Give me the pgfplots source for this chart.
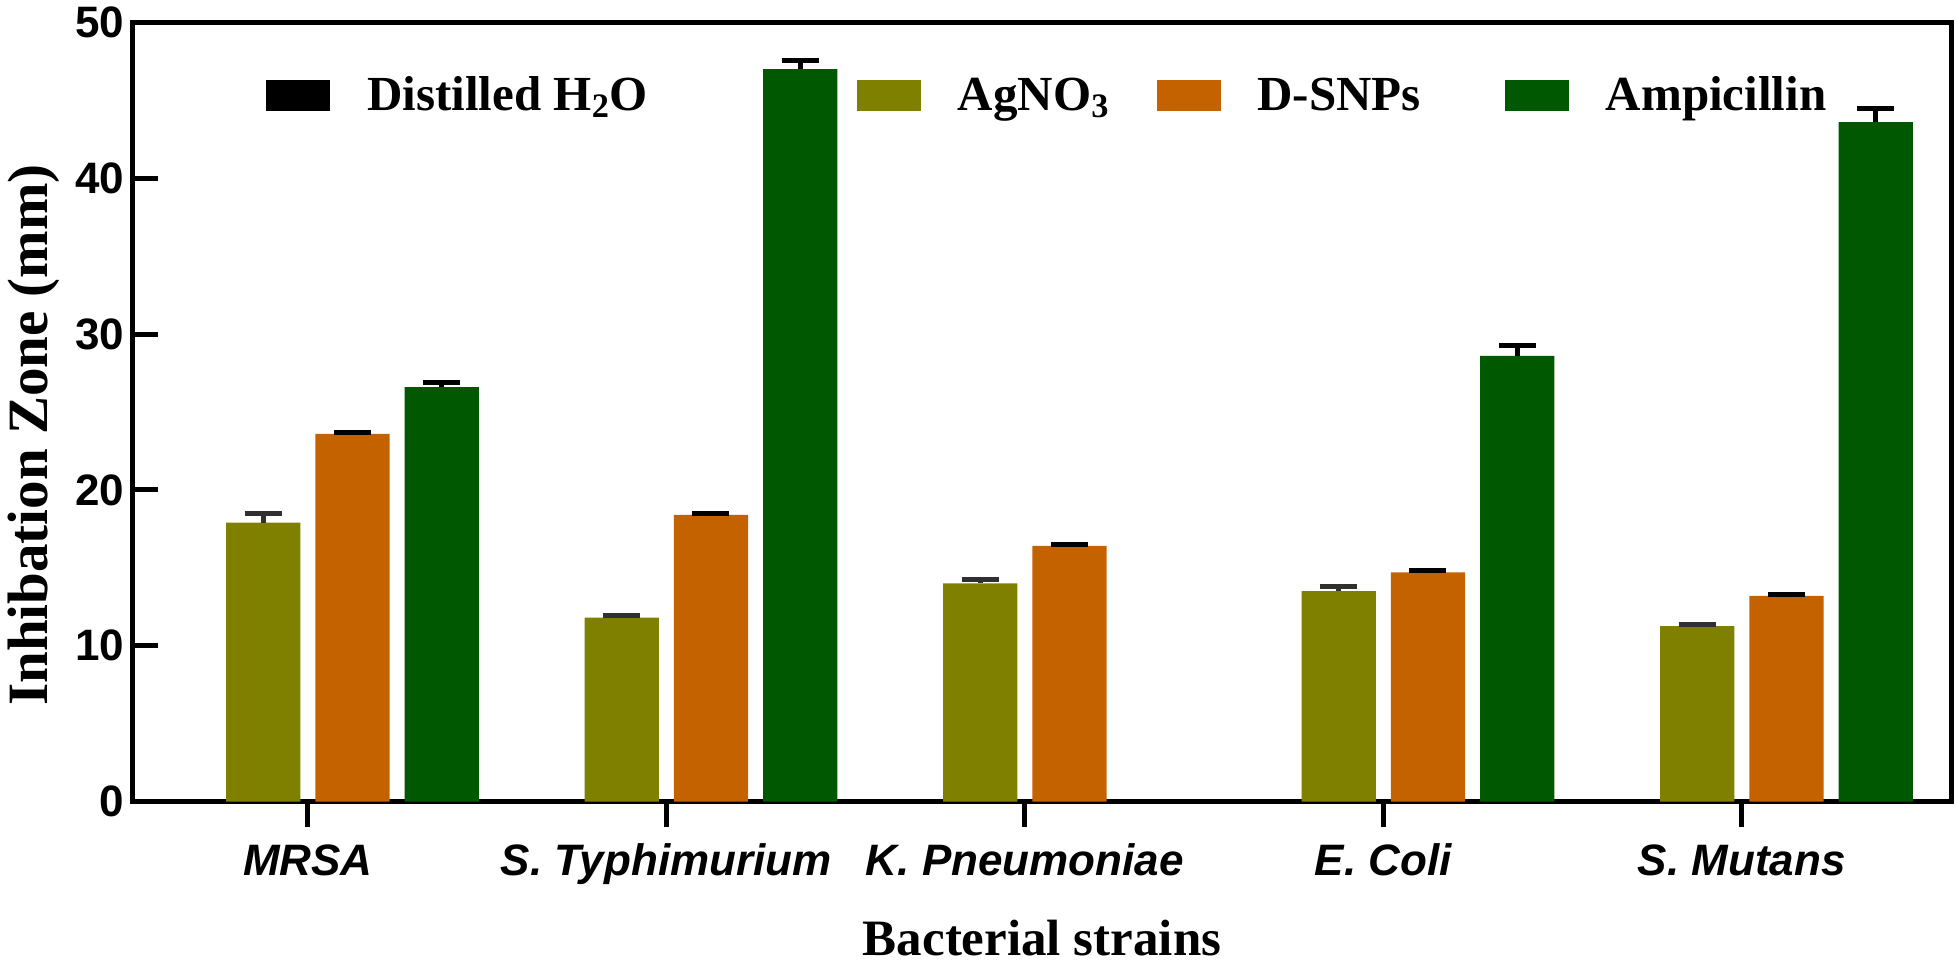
\documentclass[border=0pt]{standalone}
\usepackage{fontspec}
\setmainfont{Liberation Serif}
\setsansfont{Liberation Sans}
\usepackage{pgfplots}
\pgfplotsset{compat=1.18}
\definecolor{cOlive}{RGB}{128,128,0}
\definecolor{cOrange}{RGB}{196,98,0}
\definecolor{cGreen}{RGB}{0,88,0}
\definecolor{cErr}{RGB}{48,48,48}
\begin{document}
\begin{tikzpicture}
\useasboundingbox (0,0) rectangle (978.5pt,482.5pt);
\begin{axis}[
  at={(66.5pt,81.75pt)}, anchor=south west,
  width=909pt, height=389.5pt, scale only axis,
  xmin=-0.4876, xmax=4.5835, ymin=0, ymax=50,
  xtick={0,1,2,3,4},
  xticklabels={MRSA, S. Typhimurium, K. Pneumoniae, E. Coli, S. Mutans},
  ytick={0,10,20,30,40,50},
  tick pos=left,
  xtick align=outside, ytick align=inside,
  major tick length=12.5pt,
  tick style={line width=2.5pt, black},
  axis line style={line width=2.5pt},
  /pgf/number format/assume math mode=true,
  yticklabel style={font=\sffamily\bfseries\fontsize{22}{22}\selectfont, anchor=east, inner sep=0pt, xshift=-4.25pt},
  xticklabel style={font=\sffamily\bfseries\itshape\fontsize{22}{22}\selectfont, anchor=base, inner sep=0pt, yshift=-24.25pt},
  xlabel={Bacterial strains},
  xlabel style={font=\bfseries\fontsize{25.5}{25.5}\selectfont, at={(axis description cs:0.5,-0.19705)}, anchor=base},
  ylabel={Inhibation Zone (mm)},
  ylabel style={font=\bfseries\fontsize{28.5}{28.5}\selectfont, at={(axis description cs:-0.0473,0.4705)}, anchor=base},
  legend columns=4,
  legend style={draw=none, fill=none, inner sep=0pt, outer sep=0pt,
    at={(0.07343,0.96213)}, anchor=north west,
    font=\bfseries\fontsize{24.5}{24.5}\selectfont,
    nodes={inner sep=0pt}, column sep=0pt, row sep=0pt},
  legend image code/.code={\fill[#1,draw=none] (0pt,-9.25pt) rectangle (32pt,6.25pt); \path (0pt,-20pt) (50.35pt,20pt);},
]
% Distilled H2O
\addplot[ybar, bar width=0.2073, bar shift=0pt, fill=black, draw=none]
  coordinates {(-0.3736,0) (0.6264,0) (1.6264,0) (2.6264,0) (3.6264,0)};
\addlegendentry{\makebox[245pt][l]{\rule[-20pt]{0pt}{40pt}Distilled H\textsubscript{2}O}}
% AgNO3
\addplot[ybar, bar width=0.2073, bar shift=0pt, fill=cOlive, draw=none,
  error bars/.cd, y dir=plus, y explicit,
  error bar style={line width=2.5pt, cErr},
  error mark options={rotate=90, line width=2.5pt, cErr, mark size=9.25pt}]
  coordinates {(-0.1245,17.9) +- (0,0.61) (0.8755,11.8) +- (0,0.15) (1.8755,14.0) +- (0,0.25) (2.8755,13.5) +- (0,0.31) (3.8755,11.25) +- (0,0.13)};
\addlegendentry{\makebox[99.5pt][l]{\rule[-20pt]{0pt}{40pt}AgNO\textsubscript{3}}}
% D-SNPs
\addplot[ybar, bar width=0.2073, bar shift=0pt, fill=cOrange, draw=none,
  error bars/.cd, y dir=plus, y explicit,
  error bar style={line width=2.5pt, black},
  error mark options={rotate=90, line width=2.5pt, black, mark size=9.25pt}]
  coordinates {(0.1245,23.6) +- (0,0.08) (1.1245,18.4) +- (0,0.08) (2.1245,16.4) +- (0,0.09) (3.1245,14.7) +- (0,0.13) (4.1245,13.2) +- (0,0.10)};
\addlegendentry{\makebox[123.8pt][l]{\rule[-20pt]{0pt}{40pt}D-SNPs}}
% Ampicillin
\addplot[ybar, bar width=0.2073, bar shift=0pt, fill=cGreen, draw=none,
  error bars/.cd, y dir=plus, y explicit,
  error bar style={line width=2.5pt, black},
  error mark options={rotate=90, line width=2.5pt, black, mark size=9.25pt}]
  coordinates {(0.3736,26.6) +- (0,0.32) (1.3736,47.0) +- (0,0.59) (3.3736,28.6) +- (0,0.66) (4.3736,43.6) +- (0,0.89)};
\addlegendentry{\rule[-20pt]{0pt}{40pt}Ampicillin}
\end{axis}
\end{tikzpicture}
\end{document}
